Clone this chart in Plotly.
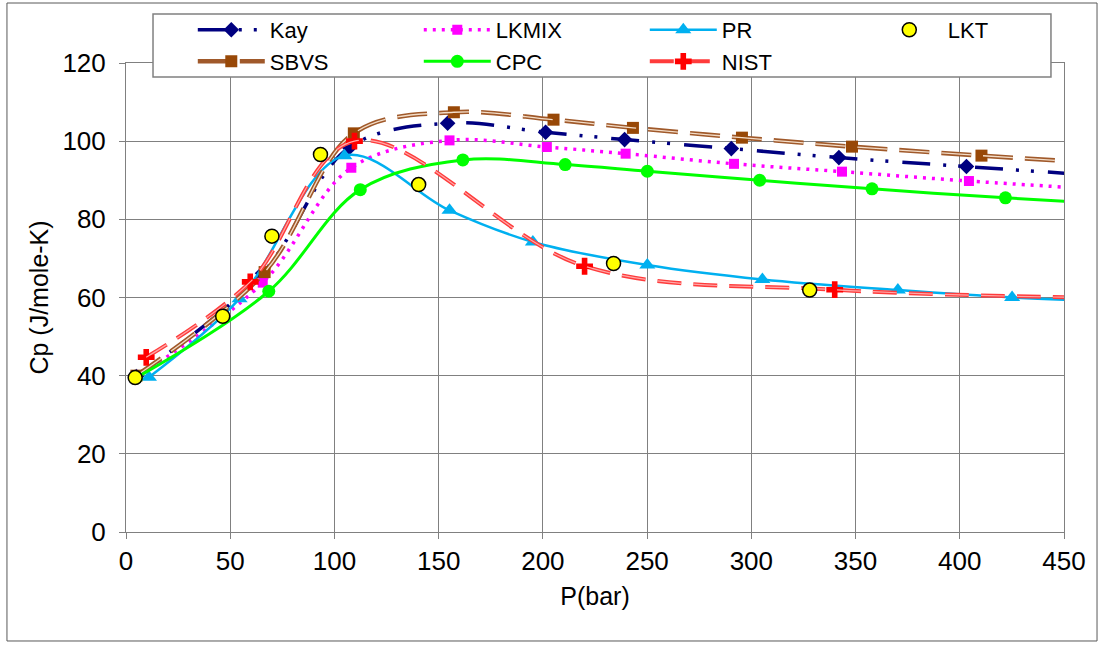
import plotly.graph_objects as go

# ---- data ----
kay_p = [5, 65.5, 107.2, 154.3, 201.3, 239.2, 290.4, 342.0, 403.2, 470]
kay_cp = [39.8, 66.2, 98.4, 104.6, 102.3, 100.4, 98.1, 95.8, 93.5, 91.1]

lkmix_p = [5, 65.6, 108.1, 155.2, 201.9, 239.7, 291.7, 343.5, 404.4, 470]
lkmix_cp = [39.6, 63.8, 93.2, 100.2, 98.5, 96.8, 94.2, 92.2, 89.8, 87.6]

pr_p = [11.0, 54.5, 104.8, 155.2, 195.2, 250.1, 305.3, 370.3, 425.1, 470]
pr_cp = [39.6, 59.7, 96.3, 82.3, 74.2, 68.3, 64.6, 61.9, 60.0, 59.0]

lkt_p = [4.4, 46.4, 70.0, 93.3, 140.4, 233.9, 328.0]
lkt_cp = [39.5, 55.2, 75.7, 96.6, 88.9, 68.7, 61.9]

sbvs_p = [5, 66.5, 109.3, 157.3, 205.1, 243.2, 295.5, 348.3, 410.4, 470]
sbvs_cp = [40.0, 66.5, 102.0, 107.4, 105.5, 103.4, 100.9, 98.6, 96.3, 94.3]

cpc_p = [5, 68.5, 112.4, 161.6, 210.7, 250.1, 304.0, 357.9, 421.9, 470]
cpc_cp = [39.5, 61.6, 87.6, 95.2, 94.0, 92.3, 90.0, 87.8, 85.5, 84.0]

nist_p = [9.7, 59.6, 109.6, 220.0, 340.0, 470]
nist_cp = [44.7, 64.0, 100.0, 68.0, 62.0, 59.9]

x_ticks = [0, 50, 100, 150, 200, 250, 300, 350, 400, 450]
y_ticks = [0, 20, 40, 60, 80, 100, 120]

FONT = "Liberation Sans"

fig = go.Figure()

# Kay
fig.add_trace(go.Scatter(
    x=kay_p, y=kay_cp, name="Kay", mode="lines+markers",
    line=dict(color="#000080", width=3.5, shape="spline", smoothing=1,
              dash="28px,13px,3px,12px,3px,14px"),
    marker=dict(symbol="diamond", size=12, color="#000080"),
    legendrank=1))

# LKMIX
fig.add_trace(go.Scatter(
    x=lkmix_p, y=lkmix_cp, name="LKMIX", mode="lines+markers",
    line=dict(color="#FF00FF", width=3.5, shape="spline", smoothing=1,
              dash="3px,6px"),
    marker=dict(symbol="square", size=10, color="#FF00FF"),
    legendrank=2))

# PR
fig.add_trace(go.Scatter(
    x=pr_p, y=pr_cp, name="PR", mode="lines+markers",
    line=dict(color="#00B0F0", width=2.5, shape="spline", smoothing=1),
    marker=dict(symbol="triangle-up", size=14, color="#00B0F0"),
    legendrank=3))

# SBVS (double line)
fig.add_trace(go.Scatter(
    x=sbvs_p, y=sbvs_cp, name="SBVS", mode="lines+markers",
    line=dict(color="#A0592A", width=4.5, shape="spline", smoothing=1,
              dash="30px,12px"),
    marker=dict(symbol="square", size=12, color="#984807"),
    legendrank=5))
fig.add_trace(go.Scatter(
    x=sbvs_p, y=sbvs_cp, mode="lines", showlegend=False, hoverinfo="skip",
    line=dict(color="#F3DDC8", width=1.3, shape="spline", smoothing=1,
              dash="30px,12px")))

# CPC
fig.add_trace(go.Scatter(
    x=cpc_p, y=cpc_cp, name="CPC", mode="lines+markers",
    line=dict(color="#00FF00", width=3, shape="spline", smoothing=1),
    marker=dict(symbol="circle", size=13, color="#00FF00"),
    legendrank=6))

# NIST (double line)
fig.add_trace(go.Scatter(
    x=nist_p, y=nist_cp, name="NIST", mode="lines+markers",
    line=dict(color="#FF3B3B", width=4, shape="spline", smoothing=1,
              dash="24px,12px"),
    marker=dict(symbol="cross", size=14, color="#FF0000"),
    legendrank=7))
fig.add_trace(go.Scatter(
    x=nist_p, y=nist_cp, mode="lines", showlegend=False, hoverinfo="skip",
    line=dict(color="#FFA8A8", width=1.2, shape="spline", smoothing=1,
              dash="24px,12px")))

# LKT (markers only, on top)
fig.add_trace(go.Scatter(
    x=lkt_p, y=lkt_cp, name="LKT", mode="markers",
    marker=dict(symbol="circle", size=14, color="#FFFF00",
                line=dict(color="#000000", width=1.5)),
    legendrank=4))

axis_common = dict(
    showgrid=True, gridcolor="#808080", gridwidth=1,
    showline=True, linecolor="#808080", linewidth=1, mirror=True,
    ticks="outside", ticklen=6, tickcolor="#808080",
    zeroline=False,
    tickfont=dict(family=FONT, size=26, color="#000000"),
)

fig.update_layout(
    width=1104, height=648,
    margin=dict(l=126, r=40, t=63, b=116, autoexpand=False),
    paper_bgcolor="#FFFFFF", plot_bgcolor="#FFFFFF",
    font=dict(family=FONT, color="#000000"),
    xaxis=dict(range=[0, 450], tickvals=x_ticks,
               title=dict(text="P(bar)", font=dict(family=FONT, size=25), standoff=12),
               **axis_common),
    yaxis=dict(range=[0, 120], tickvals=y_ticks, ticklabelstandoff=8,
               title=dict(text="Cp (J/mole-K)", font=dict(family=FONT, size=25), standoff=6),
               **axis_common),
    legend=dict(orientation="h", x=0.0712, xanchor="left", y=1.1152, yanchor="top",
                bgcolor="rgba(0,0,0,0)", borderwidth=0,
                font=dict(family=FONT, size=22, color="#000000"),
                itemwidth=67, entrywidth=144, entrywidthmode="pixels",
                traceorder="normal", itemclick=False),
    shapes=[
        dict(type="rect", xref="paper", yref="paper",
             x0=0.0288, x1=0.9861, y0=0.97015, y1=1.10448,
             fillcolor="#FFFFFF", line=dict(color="#808080", width=1.5), layer="above"),
        dict(type="rect", xref="paper", yref="paper",
             x0=-0.1269, x1=1.0352, y0=-0.2324, y1=1.1279,
             fillcolor="rgba(0,0,0,0)", line=dict(color="#595959", width=1), layer="above"),
    ],
    showlegend=True,
)

fig.write_html("out.html", config={"displayModeBar": False},
               post_script="document.body.style.margin='0';")
